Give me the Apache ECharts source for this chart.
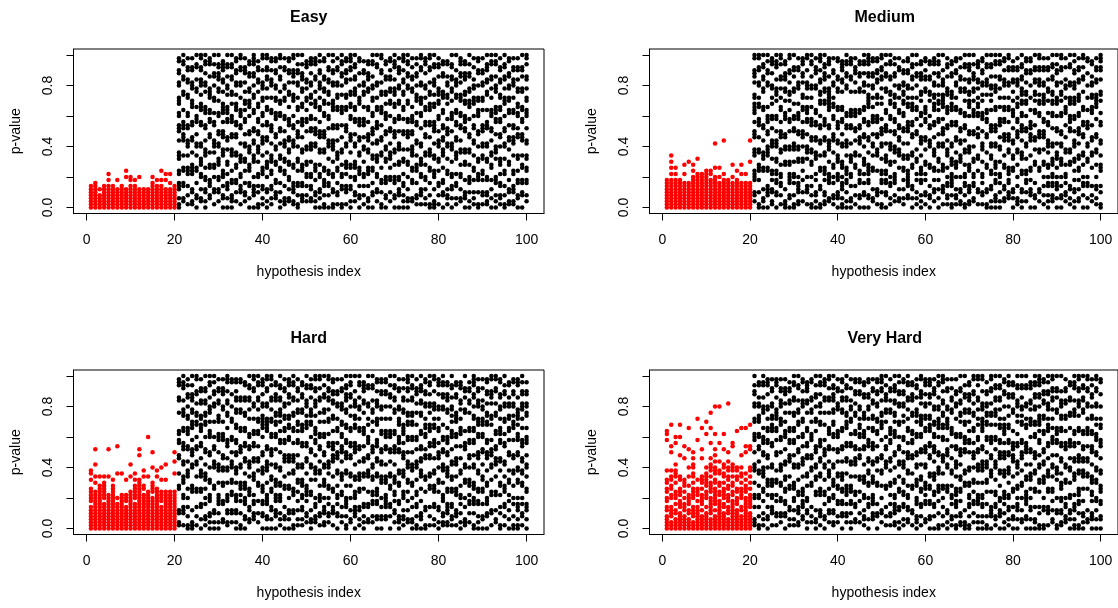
<!DOCTYPE html>
<html>
<head>
<meta charset="utf-8">
<title>p-values by hypothesis index</title>
<script src="https://cdn.jsdelivr.net/npm/echarts@6/dist/echarts.min.js"></script>
<style>
  html, body { margin: 0; padding: 0; background: #fff; }
  #chart { width: 1118px; height: 608px; }
</style>
</head>
<body>
<div id="chart"></div>
<script>
// each character is one point: LEVELS[k] is the p-value k * 0.02
const LEVELS = '0123456789abcdefghijklmnopqrstuvwxyzABCDEFGHIJKLMNO';

const panelTitles = ['Easy', 'Medium', 'Hard', 'Very Hard'];
const xTicks = [0, 20, 40, 60, 80, 100];
const yTicks = [0, 0.2, 0.4, 0.6, 0.8, 1];
const yTickLabels = [0, 0.4, 0.8];

// hypotheses 1-20 (red), one string per hypothesis
const easySignal = [
  '01234567', '012345678', '012346', '01234567', '012345679b',
  '01234567', '01234569', '01234567', '0123456ac', '012345679a',
  '012345679', '0123456a', '0123456', '0123456', '012345678a',
  '012345679', '012345679c', '01234569b', '01234568b', '01234567'
];
// hypotheses 21-100 (black)
const easyNull = [
  '013678bcghimpqruvyzAEFIJMN', '2378cdhmnoqrswBCGHLMO', '147bcdhklmqruvABFGJKN', '1256bcdeimnrsxyzDEFJKN',
  '0348cdhklostuxCDGKLO', '236abefgklrswxyBEFGJKNO', '02569adhijmqrvwxCEFILMO', '34789deinostvwABCDHLMN',
  '156adeiklmrsvzAEHILO', '2569aefgklopuvzCDGHIKLO', '0347abchijnopsvwxyCFGJKLM', '03678befjmnstvwxBDEHKLO',
  '023489chijnostuyBCGHKLO', '2589dehinorswxyBEFIJMN', '1567abfghlqruvwAEFJKNO', '2458cfgklostwyzCFIJKN',
  '0378cdeijkopuxyzCDHILM', '04567afghlmpqvwABEHILMNO', '0157abfijkopstxyCFGJKM', '1367bcdhlmnruvzADEFJNO',
  '0256adefimnrswxADGHJKNO', '1367bcfghlpqrvwAEFGJMN', '34589efjknotuvzADEIJMN', '0258cdghlpquvyzCGHKNO',
  '1237bcfgklmptuzADEJKN', '2369aefijmnrstxBCFIJMN', '125678deklmqruzABFHIJNO', '01478cfgknopswxAEFIJLO',
  '23478cdeijnrstxyCDGHILO', '247abefjkpstwzADFGKLM', '2367abfjklpqtuyABEFILMN', '02459cdeklopqtxyzCGHLMN',
  '0356abeijnopswxADEFIJMO', '014789cdijnopuvyzCDGHMN', '0478bcgklmqtuyBCFGJKO', '0156abfjklmqrwxyzEFIJMO',
  '1458cdghimqrwxABEFJKN', '0167abeijnrvwxBEHILMO', '1567bdefklpqrwxABFGIJMN', '0267adeimnotuxyBCGJKMNO',
  '2459adefklostwxBCDGHKLO', '0347bcdhimnrstyzAEIMN', '147abfjknrstxBCEFIJM', '0237bcdijmnoswxCDGHILM',
  '0458cdghlopquvzADEHLMO', '256abfghlmqrswxAEFKLO', '01589dhimnrvwxBCFIJNO', '03489afgjkoptuvyBCGHLM',
  '259adghilpquyzCDGHJMN', '03489aeijnopstxyBCDGKLMO', '04569aefjklptuyzDEIJKN', '02478bfgjoptwxBCFGJMNO',
  '0236aefjnopstyzDEHILMO', '2389cdhijkopstuxCDGHKN', '1348cdehlmrsvzABEHILN', '1456abefgklquvyzAEFJKNO',
  '1369aehinorswxADEILMN', '0148cdhijnrswxyBCFJKNO', '0126abcghlpqrsxyBEFGKLO', '1478cfgklmptuyzBCDHKLN',
  '04589dhijmnqrvwABCHILM', '1346bcgklopqtyABEFHLM', '0367abfjklptuvzCDGHKLO', '1378bghimnrsvwABEFGJO',
  '236abeijmqruvzABFHILMN', '03459efijpqstuyzBCGHILM', '02589aeijnotxyzCDHILO', '1359cdhlmqruyzADEGKN',
  '0159abfgkopuvwzAEIJMN', '1459bcghklpqrwzAEFIJN', '12459afgklqrswBCFGJKLO', '0369dehimpquvwADGHLMO',
  '02489agijkostvwxCDEHLMO', '13478befgknostwxABFGJKN', '0147bcgklpquyzADGHKLO', '12569efjmnrvwzADEHIMN',
  '12567bchlmnqrvwAEFGJKN', '03489cghnoquvxyCDGJKN', '04589dehmnostwxCDHJKO', '2489cdghlmquvwzADGHLNO'
];

const mediumSignal = [
  '0123456789', '0123456789bdfh', '0123456789bd', '0123456789', '012345678be',
  '012345678f', '0123456789ace', '0123456789abg', '0123456789ab', '0123456789abc',
  '0123456789bc', '0123456789adl', '012345678ad', '0123456789bm', '0123456789',
  '012345678ae', '0123456789c', '012345678be', '012345678b', '012345678fm'
];
const mediumNull = [
  '2459abchijnopsvwxyABFHIJNO', '0159cdeijnrstxyAEFJKNO', '0236cdghimqrwxCDGHKLO', '04567cdhijkopstuxEFIJMO',
  '12569bcgklmqtuyADEILMN', '04589bcfgklmptuzBCDGKLMO', '1478abeijnopswxADGHLNO', '0126efjknotuvzCDGHILM',
  '03489abefjkpstwzBCFIJNO', '0148abfjklpqtuyCDHJKO', '125678afgjkoptuvyDEFJKN', '259cfgknopswxABFHILMN',
  '1567agijkostvwxADEFJNO', '0147aefijmnrstxADEHLMO', '02459bghimnrsvwDEIJKN', '0167cdhlmqruyzBCFGJMNO',
  '12459bcdhimnrstyzCDGHIKLO', '2389abfjklmqrwxyzABCDHLMN', '1348adeimnotuxyAEFIJN', '03459abfghlmqrswxCDGHMN',
  '013678adefklostwxCFGJKLM', '02589bcdhklmqruvDEHILMO', '0237abfghlqruvwCGHLMN', '147dehimpquvwCFIJKN',
  '03489bchlmnqrvwCDHILM', '0458befgknostwxCEFILMO', '03489bcdeimnrsxyzABEHILMNO', '236cdhklostuxADEHIMN',
  '1456chijnostuyABFGIJMN', '01589bcgklopqtyADGHJKNO', '04589bcfghlpqrvwCDHILO', '1378aefjklptuyzBCGHLMO',
  '2489abfijkopstxyABEHILN', '236dhijmnqrvwADEJKN', '1369cdghlpquvyzBCEFIJM', '34789abcghlpqrsxyADEIJMN',
  '0367dehinorswxyADGHKLO', '1359bfgjoptwxAEHILO', '02489bcdhlmnruvzBCGHILM', '1459befjmnstvwxCDGHJMN',
  '0347deklmqruzBCGHLM', '2569cdhijnrswxyABEFILMN', '0369cfgklostwyzBEHILMO', '1567cdeklopqtxyzABEFGJO',
  '13478adhijmqrvwxBCDHKLN', '014789abefgklrswxyABCHILM', '1346adefimnrswxAEFIJMN', '1256afghlmpqvwCDGHKN',
  '01478abeijmqruvzCDGKLO', '12567cdeijkopuxyzBCFGJKLO', '2378abfgkopuvwzCDGHILO', '156cghnoquvxyADFGKLM',
  '1458abfjklptuvzBEFIJMN', '0156deinostvwBEFGKLO', '0267bcghklpqrwzBDEHKLO', '023489bdefklpqrwxCDEHLMO',
  '0258abfjknrstxADGHLMO', '2367dehmnostwxAEFGJMN', '34589bcdijmnoswxAEFJKNO', '0356cdghlmquvwzCFGJKM',
  '1237aeijnopstxyAEFGJKN', '0256bcghimpqruvyzBCDGHKLO', '2589bcgklpquyzBCFIJMN', '04569cdhmnoqrswAEIJMN',
  '0348efjmnrvwzBCFGJKO', '256cdijnopuvyzBEFGJKNO', '147aefjnopstyzABEFJKN', '02478adeiklmrsvzCDGJKN',
  '23478abefgklquvyzBCGHKLO', '03678adghilpquyzAEFIJLO', '0347aefgklopuvzBCFJKNO', '2458abeijnrvwxADEGKN',
  '1367efijpqstuyzAEFKLO', '02569cfgklmptuyzADEFIJMO', '2369cdghlopquvzABFGJKN', '0478aehinorswxCGHKNO',
  '0378afgklqrswAEIMN', '247dhimnrvwxABEFHLM', '1367aeijnotxyzABFGJKN', '0157cdehlmrsvzBCGJKMNO'
];

const hardSignal = [
  '012345679abcdgij', '0123456789abcfhlq', '0123456789abcdeh', '012345678abcdefh', '0123456789abhq',
  '0123456789abcdeg', '012345678air', '0123456789abi', '012345679abg', '0123456789abchl',
  '012345678abcdegi', '0123456789abcdefgoq', '0123456789abdehj', '0123456789abchu', '0123456789acdefkp',
  '0123456789abcdhj', '012345679abcgk', '0123456789abcgl', '0123456789abc', '0123456789abcimp'
];
const hardNull = [
  '1256deinostvwCGHLMN', '1567abfghlmqrswxBCDGKLMO', '0147adhijmqrvwxABEHILN', '0126cdeklopqtxyzCDGHILO',
  '147cdhlmqruyzBCFIJNO', '0378cdhijnrswxyABFGJKN', '1348adghilpquyzBCFGJKO', '02459abfgkopuvwzCDEHLMO',
  '0256deklmqruzEFIJMO', '02589abfjklptuvzABFGJKN', '2389efjknotuvzDEIJKN', '12569abfjknrstxBCFGJMNO',
  '256bcfgklmptuzAEIMN', '02569abfijkopstxyCDGHJMN', '0159bdefklpqrwxCDGHMN', '03489adefimnrswxBCGHLM',
  '2367bcdhklmqruvADGHKLO', '34589bghimnrsvwAEFJKNO', '259efjmnrvwzADGHLMO', '04589cdeijkopuxyzABEFILMN',
  '03489abfjklmqrwxyzAEFJKNO', '0367cdghlopquvzADGHLNO', '04569abefgklquvyzBCGHILM', '1359abefjkpstwzBCDGHKLO',
  '0347dehmnostwxABEFJKN', '0356adeimnotuxyABFHILMN', '0156bcdijmnoswxBCGHLMO', '1369cfgklostwyzCDGJKN',
  '1367abefgklrswxyCDHILM', '2459bcdeimnrsxyzBEFGKLO', '0236bcgklpquyzBCDHKLN', '23478agijkostvwxBEFGJKNO',
  '1459abeijmqruvzCGHKNO', '12567aefgklopuvzCDHILO', '2458adeiklmrsvzADGHJKNO', '1567cdhmnoqrswABFGIJMN',
  '0458abeijnopswxAEFIJN', '247bcghimpqruvyzDEFJKN', '014789aeijnopstxyCDGHIKLO', '236aehinorswxBEHILMO',
  '04567abcghlpqrsxyABEFGJO', '1367cdghimqrwxADEHLMO', '02478dhimnrvwxCFGJKLM', '2378chijnostuyAEFKLO',
  '2489bcghklpqrwzCDGKLO', '03489bcdhimnrstyzAEFGJMN', '0347afghlmpqvwADEIJMN', '34789abfghlqruvwAEIJMN',
  '0478dehimpquvwAEHILO', '2569bcfghlpqrvwCDGHKLO', '023489efijpqstuyzADEJKN', '1346abchijnopsvwxyCDGHKN',
  '2369cfgklmptuyzBCGJKMNO', '0237aefjklptuyzBCGHKLO', '01478bcgklmqtuyCFIJKN', '03459dhijmnqrvwBCFGJKLO',
  '0167cghnoquvxyAEFIJMN', '147dehinorswxyCEFILMO', '1378cdeijnrstxyADEFJNO', '0267cfgknopswxADEILMN',
  '12459abfjklpqtuyDEHILMO', '125678cdhijkopstuxCDGHILM', '13478cdghlmquvwzBDEHKLO', '1456bcdhlmnruvzABCHILM',
  '0258abeijnrvwxADFGKLM', '1237afgklqrswCDHJKO', '2589befgknostwxCFGJKM', '01589adefklostwxABEHILMNO',
  '02489cdijnopuvyzAEFGJKN', '0348cdghlpquvyzADEGKN', '04589aefjnopstyzBCFIJMN', '156bcgklopqtyABFHIJNO',
  '236bchlmnqrvwBCFJKNO', '0157befjmnstvwxADEHIMN', '1478cdehlmrsvzAEFIJLO', '0369bfgjoptwxABEFHLM',
  '0148aeijnotxyzBEFIJMN', '013678afgjkoptuvyABCDHLMN', '1458aefijmnrstxADEFIJMO', '03678cdhklostuxBCEFIJM'
];

const veryHardSignal = [
  '01234679acdfgjtvw', '0124567abdeghjpry', '0123568abcfhijlsu', '012345789bcdghouy',
  '01234678acefgnr', '01235689abehkqx', '0124567abcdfhiklnp', '012345679bcdgtA',
  '01234689abdfghnqx', '0123457abcefghikvz', '012356789acdefhjklnsxC', '01234689abcdfgijkmoqvE',
  '0123456789bcefijmsE', '01234578abcdfhiklqv', '01235679abdeghjkmpF', '0123456789bcefhjklrs',
  '012345689acdghjkw', '0123467abcdfhikox', '0123456789acdegiprx', '012345789abdfhjkqry'
];
const veryHardNull = [
  '1237abfjklptuvzAEFIJLO', '0147abeijmqruvzABEFHLM', '1359cdhijkopstuxCDEHLMO', '0347befgknostwxADEILMN',
  '1567abefgklrswxyABEFJKN', '1459bfgjoptwxABCDHLMN', '2459aefjklptuyzAEFGJKN', '04589cdghlmquvwzCFIJKN',
  '1367dehmnostwxCFGJKM', '1369adefklostwxBCGHLMO', '12567bcgklpquyzCDGKLO', '34789bcdhlmnruvzAEFGJMN',
  '02569aehinorswxCFGJKLM', '247efjknotuvzCDGHMN', '0236bcghklpqrwzAEHILO', '1456bcdhimnrstyzCEFILMO',
  '0348bcgklopqtyCGHLMN', '2569adhijmqrvwxCGHKNO', '1256abefgklquvyzCDGHIKLO', '2489dehimpquvwDEFJKN',
  '04589cdghimqrwxCDGHJMN', '2458bcdeimnrsxyzBCGHKLO', '02589cdehlmrsvzADEGKN', '2378bchlmnqrvwBCFIJMN',
  '259cghnoquvxyADEIJMN', '1346abfghlqruvwABCHILM', '0378aefijmnrstxADEHIMN', '34589abfghlmqrswxABFGJKN',
  '0458efjmnrvwzAEFIJMN', '256aeijnotxyzBCGJKMNO', '147deklmqruzCDGHILO', '1458befjmnstvwxCDGJKN',
  '125678abfgkopuvwzBCFGJKLO', '0267cdhlmqruyzEFIJMO', '1378bcfgklmptuzBEFIJMN', '2367abeijnopswxADGHLMO',
  '156deinostvwBCGHILM', '023489aefgklopuvzBCDHKLN', '1478cdghlpquvyzABFHIJNO', '2389bdefklpqrwxABEFILMN',
  '03489dehinorswxyABFHILMN', '0478bcghimpqruvyzDEIJKN', '0159cdeijkopuxyzADEHLMO', '147adeimnotuxyBCFGJMNO',
  '0256cdeklopqtxyzADEJKN', '1348abeijnrvwxCDGHKN', '014789bcdhklmqruvAEFIJN', '12459cdghlopquvzBCFGJKO',
  '0126efijpqstuyzCDHILO', '01478abefjkpstwzCDGHILM', '2589cfgknopswxBCFIJNO', '02489abfjklpqtuyADGHLNO',
  '02478abfjklmqrwxyzADEFJNO', '0148cfgklmptuyzBCEFIJM', '04567chijnostuyBCFJKNO', '13478bcgklmqtuyBCDGHKLO',
  '04569aeijnopstxyADGHKLO', '0258abchijnopsvwxyAEIJMN', '1367abfijkopstxyBEHILMO', '0347cdhmnoqrswCDHILM',
  '03678adeiklmrsvzBEFGKLO', '236aefjnopstyzBDEHKLO', '03489abcghlpqrsxyAEFKLO', '0367adghilpquyzADFGKLM',
  '0237cdijnopuvyzDEHILMO', '0157cfgklostwyzABEHILMNO', '0167afghlmpqvwABFGIJMN', '1567cdhijnrswxyADEFIJMO',
  '2369cdhklostuxADGHJKNO', '0156agijkostvwxCDHJKO', '12569adefimnrswxABEFGJO', '23478afgklqrswABFGJKN',
  '0356abfjknrstxBCGHLM', '013678bghimnrsvwBCDGKLMO', '01589bcdijmnoswxBEFGJKNO', '02459dhijmnqrvwCDGHKLO',
  '236dhimnrvwxAEFJKNO', '03459bcfghlpqrvwABEHILN', '0369afgjkoptuvyAEFJKNO', '03489cdeijnrstxyAEIMN'
];

const panels = [
  { signal: easySignal, nulls: easyNull },
  { signal: mediumSignal, nulls: mediumNull },
  { signal: hardSignal, nulls: hardNull },
  { signal: veryHardSignal, nulls: veryHardNull }
];

// plot boxes in pixels (two rows, two columns)
const boxes = [
  { left: 73.5, top: 49, width: 470.5, height: 164.5 },
  { left: 649.5, top: 49, width: 470.5, height: 164.5 },
  { left: 73.5, top: 370, width: 470.5, height: 164.5 },
  { left: 649.5, top: 370, width: 470.5, height: 164.5 }
];

const FONT = '"Liberation Sans", Arial, Helvetica, sans-serif';
const DOT = 4.5;

function toPoints(cols, firstIndex) {
  const pts = [];
  cols.forEach((s, i) => {
    for (const ch of s) {
      const k = LEVELS.indexOf(ch);
      if (k >= 0) pts.push([firstIndex + i, k / 50]);
    }
  });
  return pts;
}

const chart = echarts.init(document.getElementById('chart'), null, { renderer: 'canvas' });

const option = {
  animation: false,
  backgroundColor: '#ffffff',
  textStyle: { fontFamily: FONT },
  title: panelTitles.map((t, i) => ({
    text: t,
    left: boxes[i].left + boxes[i].width / 2,
    top: boxes[i].top - 39,
    textAlign: 'center',
    padding: 0,
    textStyle: { fontFamily: FONT, fontWeight: 'bold', fontSize: 16, color: '#000' }
  })),
  grid: boxes.map(b => ({
    left: b.left, top: b.top, width: b.width, height: b.height,
    show: true, borderColor: '#000', borderWidth: 1, backgroundColor: 'transparent',
    containLabel: false
  })),
  xAxis: boxes.map((b, i) => ({
    type: 'value',
    gridIndex: i,
    min: -2.96,
    max: 103.96,
    name: 'hypothesis index',
    nameLocation: 'middle',
    nameGap: 52,
    nameTextStyle: { fontFamily: FONT, fontSize: 14, color: '#000' },
    splitLine: { show: false },
    axisLine: { show: true, onZero: false, lineStyle: { color: '#000', width: 1 } },
    axisTick: { show: true, length: 7, inside: false, customValues: xTicks, lineStyle: { color: '#000', width: 1 } },
    axisLabel: { customValues: xTicks, margin: 20, fontFamily: FONT, fontSize: 14, color: '#000' }
  })),
  yAxis: boxes.map((b, i) => ({
    type: 'value',
    gridIndex: i,
    min: -0.04,
    max: 1.04,
    name: 'p-value',
    nameLocation: 'middle',
    nameGap: 50,
    nameRotate: 90,
    nameTextStyle: { fontFamily: FONT, fontSize: 14, color: '#000' },
    splitLine: { show: false },
    axisLine: { show: true, onZero: false, lineStyle: { color: '#000', width: 1 } },
    axisTick: { show: true, length: 7, inside: false, customValues: yTicks, lineStyle: { color: '#000', width: 1 } },
    axisLabel: {
      customValues: yTickLabels, rotate: 90, margin: 18,
      fontFamily: FONT, fontSize: 14, color: '#000',
      formatter: v => Number(v).toFixed(1)
    }
  })),
  series: []
};

panels.forEach((p, i) => {
  option.series.push({
    type: 'scatter', xAxisIndex: i, yAxisIndex: i,
    symbol: 'circle', symbolSize: DOT,
    itemStyle: { color: '#000000', opacity: 1 },
    silent: true,
    data: toPoints(p.nulls, 21)
  });
  option.series.push({
    type: 'scatter', xAxisIndex: i, yAxisIndex: i,
    symbol: 'circle', symbolSize: DOT,
    itemStyle: { color: '#ff0000', opacity: 1 },
    silent: true,
    data: toPoints(p.signal, 1)
  });
});

chart.setOption(option);
</script>
</body>
</html>
